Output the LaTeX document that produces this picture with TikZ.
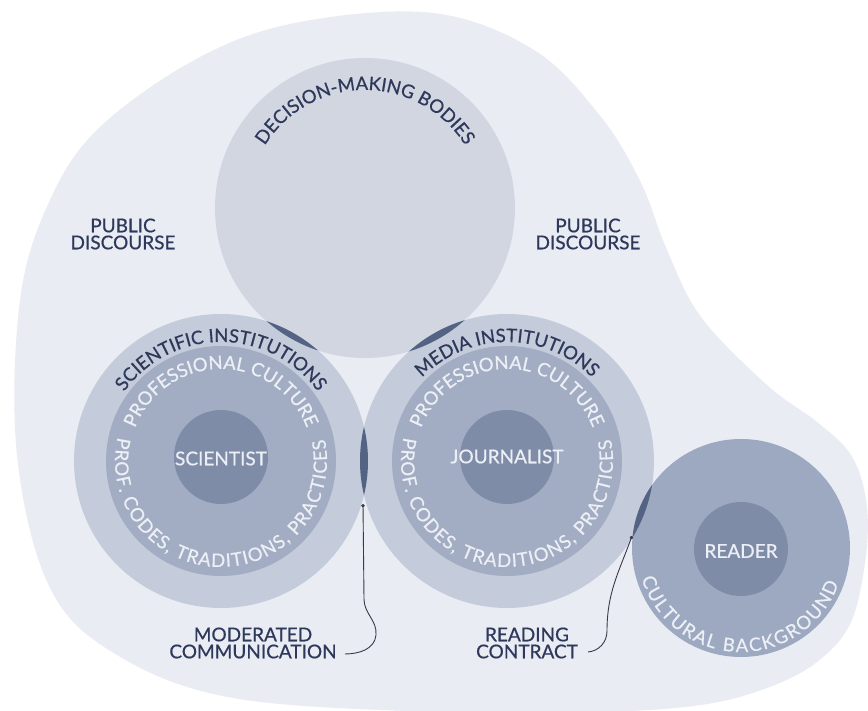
\documentclass[tikz,border=0pt]{standalone}
\usepackage{fontspec}
\setmainfont{Lato}[FakeBold=0.6]
\usetikzlibrary{decorations.text,arrows.meta}
\definecolor{blobc}{RGB}{233,236,243}
\definecolor{topc}{RGB}{209,214,225}
\definecolor{outc}{RGB}{196,203,218}
\definecolor{ringc}{RGB}{162,173,195}
\definecolor{corec}{RGB}{126,140,168}
\definecolor{readc}{RGB}{157,169,193}
\definecolor{lensc}{RGB}{84,99,132}
\definecolor{navy}{RGB}{45,56,90}
\definecolor{wtxt}{RGB}{236,239,245}
\definecolor{linec}{RGB}{55,58,72}
\begin{document}
\begin{tikzpicture}[x=1pt,y=1pt,
  disc/.style={circle,inner sep=0pt,outer sep=0pt,draw=none},
  lbl/.style={font=\fontsize{19}{17}\selectfont,text=navy,align=center,inner sep=0pt},
  corelbl/.style={font=\fontsize{19}{19}\selectfont,text=wtxt,inner sep=0pt},
  conn/.style={draw=linec,line width=0.9pt,-{Circle[length=3.4pt]}},
  arctext/.style 2 args={decorate,decoration={text along path,text align=center,
     text color=#1,text={|\fontsize{18.5}{19}\selectfont|#2}}},
  arcfit/.style 2 args={decorate,decoration={text along path,text align={fit to path},
     text color=#1,text={|\fontsize{18.5}{19}\selectfont|#2}}},
]
\useasboundingbox (0,0) rectangle (868,711);
\fill[white] (0,0) rectangle (868,711);
\fill[blobc] plot[smooth cycle,tension=0.6] coordinates {
 (433,698) (534,661) (601,594) (641,528) (667,461) (701,394) (767,326)
 (817,289) (851,256) (866,211) (866,156) (851,89) (817,49) (767,23)
 (701,6) (600,-1) (434,-1) (233,13) (117,56) (50,123) (17,256)
 (20,411) (50,511) (100,584) (200,654) (300,689)};
% circles
\node[disc,fill=topc,minimum size=300pt] (dmb) at (365,503) {};
\node[disc,fill=outc,minimum size=294pt] (sciinst) at (221,250) {};
\node[disc,fill=outc,minimum size=294pt] (medinst) at (507,250) {};
\node[disc,fill=ringc,minimum size=230pt] (scicult) at (221,250) {};
\node[disc,fill=ringc,minimum size=230pt] (medcult) at (507,250) {};
\node[disc,fill=corec,minimum size=94pt] (scicore) at (221,254) {};
\node[disc,fill=corec,minimum size=94pt] (medcore) at (507,254) {};
\node[disc,fill=readc,minimum size=218pt] (readbg) at (741,163) {};
\node[disc,fill=corec,minimum size=94pt] (readcore) at (741,162) {};
% lenses
\begin{scope}
\clip (365,503) circle[radius=150];
\fill[lensc] (221,250) circle[radius=147];
\fill[lensc] (507,250) circle[radius=147];
\end{scope}
\begin{scope}
\clip (221,250) circle[radius=147];
\fill[lensc] (507,250) circle[radius=147];
\end{scope}
\begin{scope}
\clip (507,250) circle[radius=147];
\fill[lensc] (741,163) circle[radius=109];
\end{scope}
% curved texts
\path[arctext={navy}{DECISION-MAKING BODIES}]
  (365,503) ++(200:118) arc[start angle=200,end angle=-20,radius=118];
\path[arctext={navy}{SCIENTIFIC INSTITUTIONS}]
  (221,250) ++(200:119) arc[start angle=200,end angle=-20,radius=119];
\path[arctext={navy}{MEDIA INSTITUTIONS}]
  (507,250) ++(202:119) arc[start angle=202,end angle=-22,radius=119];
\path[arctext={wtxt}{PROFESSIONAL CULTURE}]
  (221,250) ++(210:92) arc[start angle=210,end angle=-30,radius=92];
\path[arctext={wtxt}{PROFESSIONAL CULTURE}]
  (507,250) ++(210:92) arc[start angle=210,end angle=-30,radius=92];
\path[arcfit={wtxt}{PROF. CODES, TRADITIONS, PRACTICES}]
  (221,250) ++(167:106) arc[start angle=167,end angle=372,radius=106];
\path[arcfit={wtxt}{PROF. CODES, TRADITIONS, PRACTICES}]
  (507,250) ++(167:106) arc[start angle=167,end angle=372,radius=106];
\path[arcfit={wtxt}{CULTURAL BACKGROUND}]
  (741,163) ++(197:104) arc[start angle=197,end angle=340,radius=104];
% labels
\node[corelbl] (scil) at (221,252.5) {SCIENTIST};
\node[corelbl] (jourl) at (507,254.5) {JOURNALIST};
\node[corelbl] (readl) at (741,160) {READER};
\node[lbl] (pdl) at (123,477) {PUBLIC\\DISCOURSE};
\node[lbl] (pdr) at (588,477) {PUBLIC\\DISCOURSE};
\node[lbl] (mc) at (253,68) {MODERATED\\COMMUNICATION};
\node[lbl] (rc) at (527,68) {READING\\CONTRACT};
% connectors
\coordinate (mcEnd) at (363,207);
\coordinate (rcEnd) at (632,175);
\draw[conn] ([xshift=8pt,yshift=-11pt]mc.east) to[out=0,in=-95] (376,76)
  to[out=85,in=-90] (364,112) -- (mcEnd);
\draw[conn] ([xshift=10pt,yshift=-9pt]rc.east) to[out=5,in=-90] (607,80)
  to[out=90,in=-110] (rcEnd);
\end{tikzpicture}
\end{document}
